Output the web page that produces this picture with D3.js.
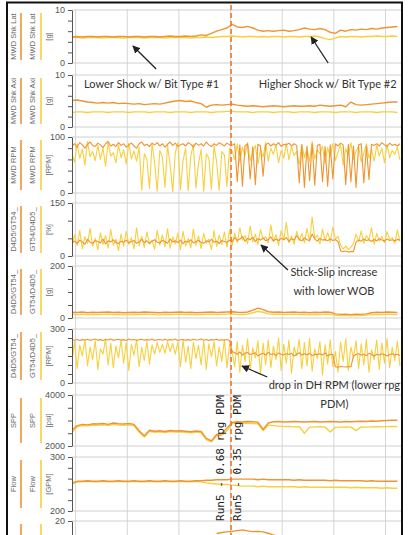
<!DOCTYPE html>
<html>
<head>
<meta charset="utf-8">
<script src="https://cdn.jsdelivr.net/npm/d3@7"></script>
<style>
  body { margin: 0; background: #fff; }
  .tick text { font-family: "Liberation Sans Narrow", "Liberation Sans", sans-serif; font-size: 9px; fill: #555; }
  .tick line, .domain { stroke: #555; }
  .lbl { font-family: "Liberation Sans Narrow", sans-serif; font-size: 7.5px; fill: #6a6a6a; }
  .note { font-family: Lato, "Open Sans", sans-serif; font-size: 11px; fill: #333; }
  .run { font-family: "DejaVu Sans Mono", monospace; font-size: 11px; fill: #222; }
</style>
</head>
<body>
<svg width="408" height="535"></svg>
<script>
var ORANGE = "#ef9431", YELLOW = "#f8cf3c";
var X0 = -0.7; // first sample time (hours)

// ---- data ----
// track 1: MWD shock lateral [g], one sample per hour
var latA = [4.9,5.0,4.9,5.0,5.0,4.9,5.0,5.0,4.9,5.0,5.0,4.9,5.0,5.0,4.9,5.0,5.0,4.9,5.0,5.1,5.0,5.0,5.1,5.0,5.1,
  5.3,5.2,5.6,6.0,6.3,6.6,7.3,
  6.8,6.7,6.9,6.6,6.2,6.0,6.1,6.0,6.1,6.2,6.0,6.1,6.3,6.6,6.4,6.3,6.5,6.3,5.8,5.6,6.2,6.0,6.3,6.2,6.4,6.3,6.5,6.4,6.6,6.7,6.8,6.9];
var latB = [4.8,4.8,4.7,4.8,4.8,4.8,4.7,4.8,4.8,4.8,4.7,4.8,4.8,4.8,4.7,4.8,4.8,4.8,4.7,4.8,4.8,4.8,4.8,4.7,4.8,4.8,4.9,4.8,4.9,5.0,5.0,5.1,
  5.0,4.9,5.0,5.0,4.9,5.0,4.9,5.0,5.0,4.9,5.0,5.0,4.9,5.0,5.0,5.1,4.9,4.6,4.4,4.7,5.0,4.9,5.0,5.0,4.9,5.0,5.0,5.1,5.0,5.0,5.1,5.0];
// track 2: MWD shock axial [g]
var axiA = [5.1,5.2,5.0,4.8,4.7,4.6,4.7,4.6,4.7,4.5,4.6,4.5,
  4.4,4.5,4.3,4.4,4.5,4.4,4.6,4.8,5.0,5.1,4.9,5.0,4.7,4.5,3.8,4.2,4.3,4.2,4.3,4.4,
  4.2,4.1,4.0,4.1,4.0,3.9,4.0,4.1,4.0,3.9,4.0,4.1,4.0,4.0,4.1,4.0,4.2,4.1,4.0,4.1,4.2,3.9,4.8,4.3,4.2,4.3,4.4,4.5,4.6,4.7,4.8,4.8];
var axiB = [2.8,2.9,2.9,2.8,2.9,2.9,2.9,2.8,2.9,2.9,2.9,2.8,2.9,2.9,2.9,2.8,2.9,2.9,2.9,2.8,2.9,2.9,2.9,2.8,2.9,2.9,2.9,2.8,2.9,2.9,3.0,3.0,
  2.9,2.9,2.9,2.8,2.9,2.9,2.9,2.8,2.9,2.9,2.9,2.8,2.9,2.9,2.9,2.8,2.9,2.9,2.9,2.8,2.9,2.9,2.9,2.8,2.9,2.9,2.9,2.8,2.9,2.9,2.9,2.8];
// track 3: MWD RPM, two samples per hour
var mwdRpmA = [84,88,82,90,86,80,87,91,85,83,89,86,81,88,92,84,87,83,90,85,88,82,
  86,89,84,80,88,91,85,87,83,89,86,90,84,88,82,87,91,85,89,83,86,88,84,90,87,82,89,85,88,84,91,86,83,88,85,90,87,84,89,86,
  85,88,20,86,12,84,88,25,83,15,87,84,30,86,89,84,88,85,90,83,87,86,89,84,88,85,
  18,86,10,84,22,88,14,85,87,20,83,12,86,25,88,84,89,86,
  15,87,20,84,10,86,88,18,83,24,87,85,88,84,90,86,83,89,85,87,84,88];
var mwdRpmB = [70,55,88,62,78,50,92,65,74,58,85,60,80,48,90,66,72,54,86,63,77,52,89,61,75,57,
  82,5,70,60,8,88,55,3,76,64,10,85,50,2,72,90,6,58,80,4,66,87,9,53,78,3,70,62,7,84,56,5,74,68,12,80,
  75,60,88,55,82,66,90,58,72,85,52,78,64,91,57,80,69,86,54,76,62,89,59,83,67,74,51,87,63,79,
  56,92,61,77,70,84,53,81,65,88,58,73,86,50,79,67,90,60,75,83,55,71,88,62,78,57,85,66,80,54,87,63,76,69,82,59];
// track 4: stick-slip [%]
var ssA = [38,42,35,45,40,33,47,39,36,44,41,37,48,34,43,40,46,38,35,42,39,45,37,41,44,36,40,47,38,43,35,42,46,39,37,44,41,36,48,40,43,38,45,35,42,39,46,37,41,44,38,36,43,40,47,39,42,35,44,41,38,45,
  40,52,44,48,55,42,50,46,53,41,49,45,51,43,47,54,42,48,44,50,46,52,41,49,45,58,47,43,51,46,44,62,48,42,50,45,47,43,49,44,46,41,15,12,14,11,13,12,40,45,42,48,44,46,41,47,43,49,45,42,48,44,46,43,47,45];
var ssB = [25,60,30,72,20,55,35,78,28,50,18,66,32,58,22,75,30,48,15,62,27,70,33,52,20,80,29,56,24,68,35,45,19,73,31,60,26,77,22,54,34,65,17,70,28,50,23,76,30,57,21,64,36,48,18,72,27,59,33,68,25,74,
  30,65,38,80,45,58,35,85,40,62,32,75,48,55,36,88,42,60,30,72,46,95,38,57,33,70,44,63,37,78,41,110,50,59,34,76,43,66,39,82,47,56,31,20,28,18,25,35,62,40,71,36,58,45,80,33,64,42,55,38,69,47,52,36,74,41];
// track 5: downhole shock [g], one sample per hour
var gA = [22,21,23,20,22,21,22,23,21,22,20,21,22,21,23,22,21,20,22,21,22,23,21,22,20,21,22,23,21,22,23,24,22,21,23,30,38,32,24,22,23,21,22,23,21,22,20,22,21,23,22,16,14,15,13,15,14,16,20,22,21,23,22,21];
var gB = [14,13,15,12,14,13,14,15,13,14,12,13,14,13,15,14,13,12,14,13,14,15,13,14,12,13,14,15,13,14,15,16,14,13,15,20,26,22,16,14,15,13,14,15,13,14,12,14,13,15,14,10,9,10,8,10,9,11,13,14,13,15,14,13];
// track 6: downhole RPM, two samples per hour
var dhRpmA = [240,238,242,236,241,239,243,237,240,244,238,241,236,242,239,245,237,240,243,238,241,236,244,239,242,237,240,243,238,241,239,244,236,240,242,238,243,237,241,239,244,236,240,242,238,241,237,243,239,240,245,238,242,236,241,239,243,237,240,238,242,236,
  175,168,160,172,155,165,170,158,162,168,150,160,165,155,170,158,163,152,167,160,155,162,158,165,150,160,168,155,162,157,165,152,160,158,163,155,167,150,160,158,
  90,88,92,90,89,91,90,150,158,162,155,160,152,165,158,150,160,155,162,157,150,158,163,155,160,152];
var dhRpmB = [120,230,80,210,150,240,95,200,130,235,75,190,160,245,100,220,85,205,140,238,110,225,70,215,155,240,90,198,125,232,105,212,160,225,170,215,165,230,175,220,160,226,90,240,115,205,80,228,135,210,100,236,75,218,145,230,95,200,120,242,85,215,
  180,90,230,60,210,120,245,75,195,140,235,50,220,100,240,85,205,130,250,70,215,110,238,55,200,150,242,80,225,95,248,65,190,135,230,45,212,105,240,90,
  175,60,228,120,246,70,200,140,235,80,218,100,244,60,185,130,238,75,222,110,247,85,198,125,232,95];
// track 7: standpipe pressure [psi], one sample per hour
var sppA = [2620,2800,2850,2830,2870,2860,2880,2850,2900,2870,2860,2880,2850,2600,2400,2620,2580,2600,2570,2610,2590,2600,2580,2560,2590,2570,2300,2200,2450,2480,2700,2920,
  2950,2940,2960,2950,2930,2650,2900,2950,2960,2940,2950,2960,2950,2940,2950,2960,2940,2950,2960,2950,2940,2960,2950,2960,2970,2960,2980,2970,2990,3000,3010,3010];
var sppB = [2550,2750,2800,2790,2820,2810,2830,2800,2850,2820,2810,2830,2800,2550,2350,2580,2540,2560,2530,2570,2550,2560,2540,2520,2550,2530,2250,2160,2400,2420,2600,2880,
  2900,2890,2900,2880,2870,2600,2820,2800,2780,2760,2770,2750,2760,2500,2740,2750,2760,2740,2550,2730,2740,2750,2740,2600,2750,2740,2750,2760,2750,2760,2770,2760];
// track 8: flow [GPM]
var flowA = [252,255,255,256,255,255,256,255,255,256,255,255,256,255,255,256,255,255,256,255,255,256,255,255,256,256,257,257,258,258,258,259,
  259,259,259,259,258,259,258,258,258,258,258,257,258,257,257,257,257,257,256,257,256,256,256,256,256,255,256,255,255,255,255,255];
var flowB = [250,254,254,255,254,254,255,254,254,255,254,254,255,254,254,255,254,254,255,254,254,255,254,254,255,254,252,251,250,249,249,248,
  247,246,246,246,245,246,245,245,245,245,245,245,244,245,244,244,244,244,244,244,244,244,243,244,243,243,243,243,242,243,242,242];
// track 9 (cut off at the bottom)
var t9A = [null,null,null,null,null,null,null,null,null,null,null,null,null,null,null,null,null,null,null,null,null,null,null,null,null,null,null,null,
  15.2,15.6,15.8,16.0,16.3,16.6,16.2,15.9,16.0,15.8,15.3,14.6,14.0,13.8,13.6,13.5,13.5,13.4,13.5,13.4,13.3,13.4,13.3,13.2,13.3,13.2,13.2,13.1,13.2,13.1,13.1,13.0,13.1,13.0,13.0,13.0];

var trackNames = [["MWD Shk Lat","MWD Shk Lat","[g]"],["MWD Shk Axi","MWD Shk Axi","[g]"],["MWD RPM","MWD RPM","[RPM]"],
  ["D4D5/GT54_","GT54/D4D5_","[%]"],["D4D5/GT54_","GT54/D4D5_","[g]"],["D4D5/GT54_","GT54/D4D5_","[RPM]"],
  ["SPP","SPP","[psi]"],["Flow","Flow","[GPM]"],null];
var trackDomains = [[0,10],[0,10],[0,100],[0,150],[0,200],[0,300],[2000,4000],[200,300],[0,20]];
var trackTicks = [[0,2,4,6,8,10],[0,2,4,6,8,10],[0,20,40,60,80,100],[0,50,100,150],[0,50,100,150,200],
  [0,50,100,150,200,250,300],[2000,2500,3000,3500,4000],[200,220,240,260,280,300],[20]];
var trackSeries = [[latB,latA],[axiB,axiA],[mwdRpmB,mwdRpmA],[ssB,ssA],[gB,gA],[dhRpmB,dhRpmA],[sppB,sppA],[flowB,flowA],[t9A]];
var trackStep = [1,1,0.5,0.5,1,0.5,1,1,1];

var runLabels = ["Run5 - 0.68 rpg PDM","Run5 - 0.35 rpg PDM"];
var runTimes = [28.0, 31.3];
var bitChange = 30.1;

// ---- layout ----
var tops = [10,75,137,203,266,329,395,457,521];
var bots = [63,127,193,256,318,383,446,511,573];

var svg = d3.select("svg");
var x = d3.scaleLinear().domain([X0, 63]).range([72, 401]);

var defs = svg.append("defs");
defs.append("clipPath").attr("id", "plot")
  .append("rect").attr("x", 72).attr("y", 8).attr("width", 329).attr("height", 530);
defs.append("marker").attr("id", "head")
  .attr("viewBox", "0 0 10 10").attr("refX", 9).attr("refY", 5)
  .attr("markerWidth", 6).attr("markerHeight", 6).attr("orient", "auto")
  .append("path").attr("d", "M0,0L10,5L0,10z").attr("fill", "#222");

// vertical grid
svg.append("g").selectAll("line").data(d3.range(0, 61, 10)).enter().append("line")
  .attr("x1", function(d) { return x(d); }).attr("x2", function(d) { return x(d); })
  .attr("y1", 9).attr("y2", 535)
  .attr("stroke", "#d6d6d6").attr("stroke-width", 1);

var plot = svg.append("g").attr("clip-path", "url(#plot)");

trackDomains.forEach(function(dom, k) {
  var y = d3.scaleLinear().domain(dom).range([bots[k], tops[k]]);

  // horizontal grid at track edges
  svg.append("g").selectAll("line").data(dom).enter().append("line")
    .attr("x1", 72).attr("x2", 401)
    .attr("y1", function(d) { return y(d); }).attr("y2", function(d) { return y(d); })
    .attr("stroke", "#d0d0d0");

  // y axis
  svg.append("g")
    .attr("transform", "translate(72,0)")
    .call(d3.axisLeft(y).tickValues(trackTicks[k]).tickSize(4).tickSizeOuter(0)
      .tickFormat(function(d) { return (d === dom[0] || d === dom[1]) ? d : ""; }));

  // series
  var step = trackStep[k];
  var line = d3.line()
    .defined(function(d) { return d != null; })
    .x(function(d, i) { return x(X0 + i * step); })
    .y(function(d) { return y(d); });
  var series = trackSeries[k];
  series.forEach(function(vals, s) {
    var col = series.length === 1 ? ORANGE : (s === 0 ? YELLOW : ORANGE);
    plot.append("path").datum(vals)
      .attr("fill", "none").attr("stroke", col)
      .attr("stroke-width", step < 1 ? 1.1 : 1.4)
      .attr("stroke-linejoin", "round")
      .attr("d", line);
  });

  // label columns
  var mid = (tops[k] + bots[k]) / 2;
  var names = trackNames[k];
  if (names) {
    [[13, names[0]], [32, names[1]], [48, names[2]]].forEach(function(t) {
      svg.append("text").attr("class", "lbl")
        .attr("transform", "translate(" + (t[0] + 2.5) + "," + mid + ") rotate(-90)")
        .attr("text-anchor", "middle").text(t[1]);
    });
  }
  [[21, ORANGE], [41, YELLOW]].forEach(function(c) {
    svg.append("line").attr("x1", c[0]).attr("x2", c[0])
      .attr("y1", tops[k] + 3).attr("y2", bots[k] - 3)
      .attr("stroke", c[1]).attr("stroke-width", 1.6);
  });
});

// bit change line
svg.append("line")
  .attr("x1", x(bitChange)).attr("x2", x(bitChange))
  .attr("y1", 5).attr("y2", 535)
  .attr("stroke", "#f07b2a").attr("stroke-width", 1.6)
  .attr("stroke-dasharray", "5,3");

// run labels
runLabels.forEach(function(t, i) {
  svg.append("text").attr("class", "run")
    .attr("transform", "translate(" + (x(runTimes[i]) + 4) + ",458) rotate(-90)")
    .attr("text-anchor", "middle").text(t);
});

// annotations
var notes = [
  {t: ["Lower Shock w/ Bit Type #1"], at: 14.7, y: 88},
  {t: ["Higher Shock w/ Bit Type #2"], at: 48.8, y: 88},
  {t: ["Stick-Slip increase", "with lower WOB"], at: 50.0, y: 276},
  {t: ["drop in DH RPM (lower rpg", "PDM)"], at: 50.1, y: 389}
];
notes.forEach(function(n) {
  n.t.forEach(function(s, j) {
    svg.append("text").attr("class", "note")
      .attr("x", x(n.at)).attr("y", n.y + j * 19)
      .attr("text-anchor", "middle").text(s);
  });
});

var arrows = [
  {from: [15.6, 69], to: [11.1, 46]},
  {from: [48.9, 63], to: [45.6, 37]},
  {from: [41.1, 270], to: [35.9, 245]},
  {from: [37.1, 377], to: [32.2, 366]}
];
svg.append("g").selectAll("line").data(arrows).enter().append("line")
  .attr("x1", function(d) { return x(d.from[0]); }).attr("y1", function(d) { return d.from[1]; })
  .attr("x2", function(d) { return x(d.to[0]); }).attr("y2", function(d) { return d.to[1]; })
  .attr("stroke", "#222").attr("stroke-width", 1.3)
  .attr("marker-end", "url(#head)");

// outer frame
svg.append("rect").attr("x", 7).attr("y", 2.5).attr("width", 395).attr("height", 545)
  .attr("fill", "none").attr("stroke", "#111").attr("stroke-width", 2);
</script>
</body>
</html>
